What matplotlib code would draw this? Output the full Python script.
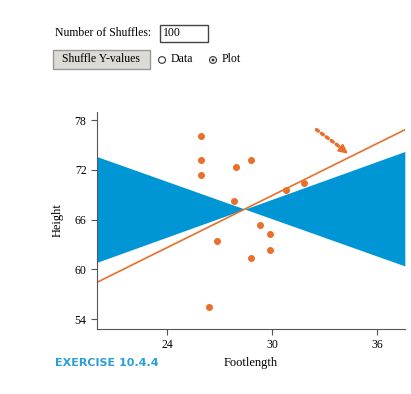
import matplotlib.pyplot as plt
import numpy as np
from matplotlib.patches import Rectangle, Circle

plt.rcParams['font.family'] = ['Liberation Serif', 'DejaVu Serif']

# data
footlength = [25.95, 25.95, 25.95, 26.4, 26.84, 27.85, 27.94, 28.81, 28.81,
              29.32, 29.87, 29.87, 30.82, 31.86]
height = [76.1, 73.2, 71.4, 55.4, 63.4, 68.2, 72.3, 73.2, 61.4,
          65.4, 64.3, 62.3, 69.6, 70.4]
fit_slope = 1.046
center = (28.45, 67.27)
# range of slopes from 100 shuffles
shuffle_slopes = [-0.75, 0.76]

blue = '#0096d6'
orange = '#e96f2a'

fig = plt.figure(figsize=(4.11, 3.94), dpi=100)
ax = fig.add_axes([0.236, 0.165, 0.749, 0.551])

xs = np.linspace(20, 37.6, 200)
dx = xs - center[0]
lines = np.array([center[1] + s * dx for s in shuffle_slopes])
ax.fill_between(xs, lines.min(axis=0), lines.max(axis=0), color=blue, lw=0)
ax.plot(xs, center[1] + fit_slope * dx, color=orange, lw=1.2)
ax.scatter(footlength, height, s=16, color=orange, zorder=3)

# dotted pointer to the fitted line
ax.plot([32.55, 33.9], [76.85, 74.75], color=orange, lw=2.6,
        linestyle=(0, (0.6, 1.1)), dash_capstyle='round')
ax.annotate('', xy=(34.35, 73.95), xytext=(33.75, 74.95),
            arrowprops=dict(arrowstyle='-|>', color=orange, lw=1.5,
                            mutation_scale=13, shrinkA=0, shrinkB=0))

ax.set_xlim(20, 37.6)
ax.set_ylim(52.8, 79)
ax.set_xticks([24, 30, 36])
ax.set_yticks([54, 60, 66, 72, 78])
for s in ['top', 'right']:
    ax.spines[s].set_visible(False)
for s in ['left', 'bottom']:
    ax.spines[s].set_color('#555555')
ax.tick_params(labelsize=8.5, length=4, color='#555555')
ax.set_xlabel('Footlength', fontsize=9, labelpad=4)
ax.set_ylabel('Height', fontsize=9, labelpad=8)

# widgets above the plot
fig.text(55 / 411, 1 - 33 / 394, 'Number of Shuffles:', fontsize=8.5, va='center')
fig.patches.append(Rectangle((160 / 411, 1 - 42 / 394), 48 / 411, 17 / 394,
                             transform=fig.transFigure, fc='white', ec='#444444', lw=1))
fig.text(163 / 411, 1 - 33.5 / 394, '100', fontsize=8.5, va='center')
fig.patches.append(Rectangle((53 / 411, 1 - 69 / 394), 97 / 411, 19 / 394,
                             transform=fig.transFigure, fc='#dcdad5', ec='#999999', lw=1))
fig.text(101 / 411, 1 - 59.5 / 394, 'Shuffle Y-values', fontsize=8.5,
         va='center', ha='center')
for cx in [162, 213]:
    fig.patches.append(Circle((cx / 411, 1 - 60 / 394), 3.5 / 411,
                              transform=fig.transFigure, fc='white', ec='#333333', lw=0.8))
fig.patches.append(Circle((213 / 411, 1 - 60 / 394), 1.5 / 411,
                          transform=fig.transFigure, fc='#333333', lw=0))
fig.text(171 / 411, 1 - 59.5 / 394, 'Data', fontsize=8.5, va='center')
fig.text(222 / 411, 1 - 59.5 / 394, 'Plot', fontsize=8.5, va='center')

fig.text(55 / 411, 1 - 363 / 394, 'EXERCISE 10.4.4', fontsize=8,
         fontweight='bold', color='#2a9fd6', family='DejaVu Sans', va='center')

fig.savefig('out.png', dpi=100)
